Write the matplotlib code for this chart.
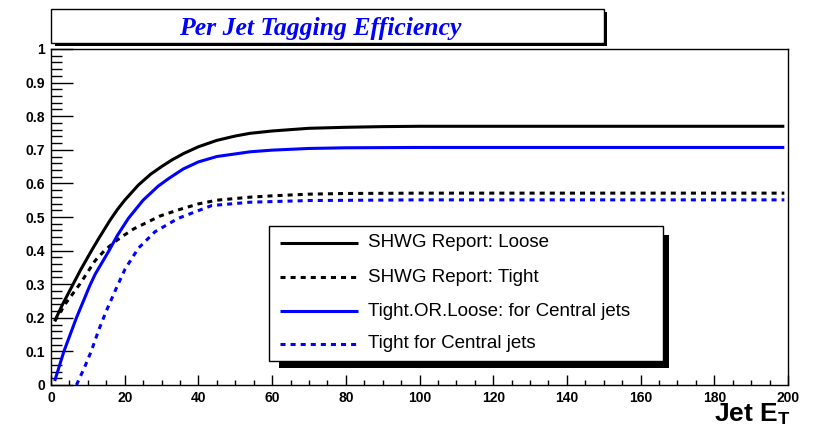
import numpy as np
import matplotlib
matplotlib.use("Agg")
import matplotlib.pyplot as plt
from matplotlib.patches import Rectangle
from matplotlib.lines import Line2D
from matplotlib.ticker import MultipleLocator

plt.rcParams['font.family'] = ['Liberation Sans', 'DejaVu Sans']
plt.rcParams['mathtext.fontset'] = 'custom'
plt.rcParams['mathtext.bf'] = 'Liberation Sans:bold'
plt.rcParams['mathtext.rm'] = 'Liberation Sans:bold'

# values (jet ET in GeV, efficiency)
loose_x = [1, 3, 6, 8, 11, 13, 16, 18, 20, 23.7, 27, 30, 33, 36, 40, 45, 50, 54,
           60, 70, 80, 90, 100, 199]
loose_y = [0.19, 0.237, 0.30, 0.342, 0.40, 0.437, 0.49, 0.522, 0.55, 0.595, 0.627,
           0.65, 0.671, 0.689, 0.709, 0.728, 0.741, 0.749, 0.756, 0.764, 0.767,
           0.769, 0.77, 0.77]

tight_x = [1, 4, 8, 11.9, 14.5, 17.4, 20, 22.5, 25.5, 29.6, 34.5, 40, 45, 54, 60,
           70, 80, 100, 199]
tight_y = [0.19, 0.243, 0.303, 0.369, 0.40, 0.427, 0.447, 0.465, 0.481, 0.503,
           0.521, 0.539, 0.55, 0.559, 0.563, 0.568, 0.57, 0.571, 0.571]

cen_or_x = [1, 3.5, 6.9, 10.5, 12, 15.6, 18, 21, 25, 29.1, 32, 35.9, 40, 45, 54,
            60, 70, 80, 100, 199]
cen_or_y = [0.012, 0.1, 0.2, 0.295, 0.33, 0.397, 0.445, 0.496, 0.55, 0.592, 0.615,
            0.643, 0.664, 0.68, 0.694, 0.699, 0.704, 0.706, 0.707, 0.707]

cen_tight_x = [6.9, 9, 10.9, 13, 15, 17.8, 20.1, 23.7, 28.2, 34.5, 43.6, 54, 70,
               100, 199]
cen_tight_y = [0.0, 0.05, 0.1, 0.165, 0.22, 0.29, 0.345, 0.407, 0.456, 0.496,
               0.534, 0.544, 0.549, 0.551, 0.551]

labels = ['SHWG Report: Loose', 'SHWG Report: Tight',
          'Tight.OR.Loose: for Central jets', 'Tight for Central jets']

W, H = 815, 424
def fx(p):
    return p / W
def fy(p):
    return 1 - p / H

fig = plt.figure(figsize=(8.15, 4.24), dpi=100)
ax = fig.add_axes([fx(51), fy(385), 737 / W, 336 / H])

solid = dict(lw=2.2, solid_capstyle='butt', solid_joinstyle='round')
dash = dict(lw=2.2, ls=(0, (1.65, 1.65)))
styles = [dict(color='black', **solid), dict(color='black', **dash),
          dict(color='#0000ff', **solid), dict(color='#0000ff', **dash)]

series = [(loose_x, loose_y), (tight_x, tight_y),
          (cen_or_x, cen_or_y), (cen_tight_x, cen_tight_y)]
for (xs, ys), st in zip(series, styles):
    ax.plot(xs, ys, **st)

ax.set_xlim(0, 200)
ax.set_ylim(0, 1)
ax.xaxis.set_major_locator(MultipleLocator(20))
ax.xaxis.set_minor_locator(MultipleLocator(5))
ax.yaxis.set_major_locator(MultipleLocator(0.1))
ax.yaxis.set_minor_locator(MultipleLocator(0.02))
ax.tick_params(which='both', direction='in', top=False, right=False, width=1.0)
ax.tick_params(axis='x', which='major', length=7, pad=4, labelsize=10)
ax.tick_params(axis='x', which='minor', length=3.6)
ax.tick_params(axis='y', which='major', length=15.5, pad=4.3, labelsize=10)
ax.tick_params(axis='y', which='minor', length=8)
ax.set_yticks(np.arange(0, 1.01, 0.1))
ax.set_yticklabels(['0', '0.1', '0.2', '0.3', '0.4', '0.5', '0.6', '0.7', '0.8', '0.9', '1'])
for lab in ax.get_xticklabels() + ax.get_yticklabels():
    lab.set_fontweight('bold')
for s in ax.spines.values():
    s.set_linewidth(1.0)

fig.text(fx(790), fy(421), r'Jet E$_{\mathbf{T}}$', ha='right', va='baseline',
         fontsize=19, fontweight='bold')

# title box with shadow
fig.patches.append(Rectangle((fx(55), fy(46)), (607 - 55) / W, (46 - 12) / H,
                             transform=fig.transFigure, facecolor='black',
                             edgecolor='none', zorder=1))
fig.patches.append(Rectangle((fx(51), fy(43)), (604 - 51) / W, (43 - 9) / H,
                             transform=fig.transFigure, facecolor='white',
                             edgecolor='black', lw=1.0, zorder=2))
fig.text(fx(320), fy(28), 'Per Jet Tagging Efficiency', ha='center', va='center',
         fontsize=18.5, fontweight='bold', fontstyle='italic', color='#0000ff',
         family='Liberation Serif', zorder=3)

# legend box with shadow
fig.patches.append(Rectangle((fx(279), fy(368)), (669 - 279) / W, (368 - 235) / H,
                             transform=fig.transFigure, facecolor='black',
                             edgecolor='none', zorder=4))
fig.patches.append(Rectangle((fx(269), fy(361)), (663 - 269) / W, (361 - 226) / H,
                             transform=fig.transFigure, facecolor='white',
                             edgecolor='black', lw=1.0, zorder=5))
rows = [243, 277, 311, 344]
for row, lab, st in zip(rows, labels, styles):
    fig.lines.append(Line2D([fx(280), fx(358)], [fy(row), fy(row)],
                            transform=fig.transFigure, zorder=6, **st))
    fig.text(fx(368), fy(row), lab, ha='left', va='center', fontsize=13.5, zorder=6)

fig.savefig('out.png', dpi=100)
